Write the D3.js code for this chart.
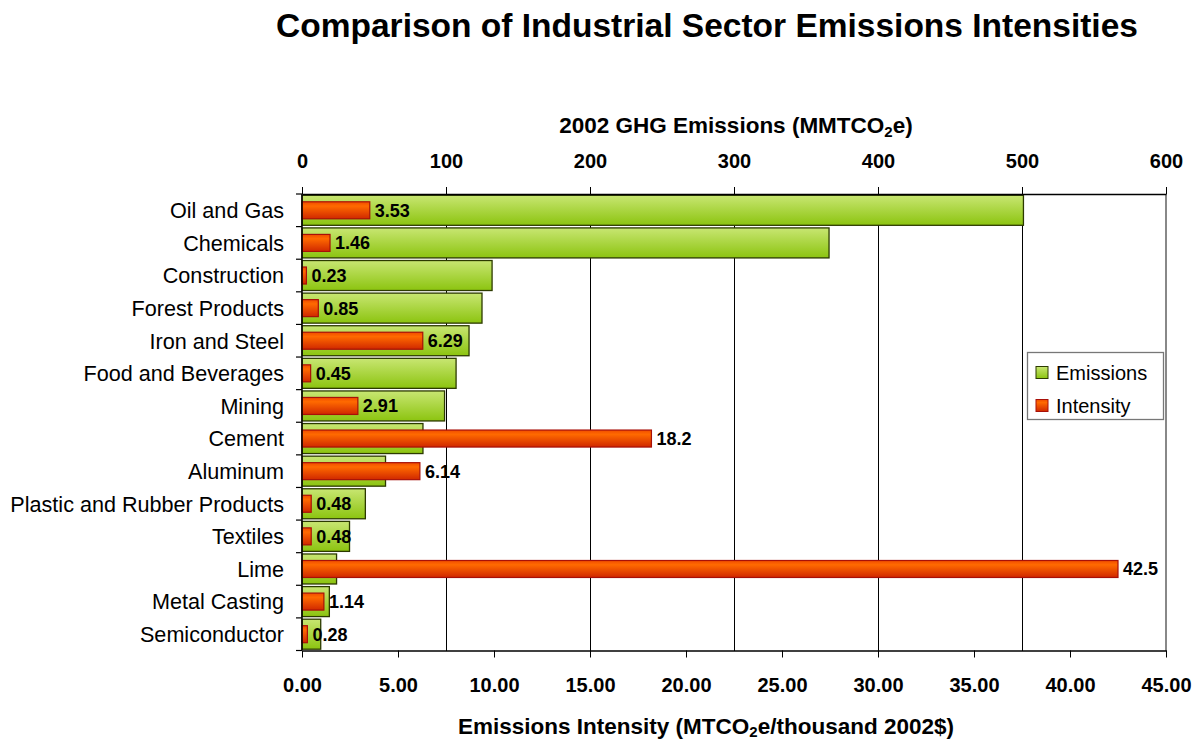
<!DOCTYPE html>
<html><head><meta charset="utf-8">
<script src="https://cdn.jsdelivr.net/npm/d3@7"></script>
<style>
html,body{margin:0;padding:0;background:#fff;}
text{font-family:"Liberation Sans",Arial,sans-serif;}
</style></head>
<body><svg id="c" width="1198" height="742"></svg>
<script>
const categories = ["Oil and Gas","Chemicals","Construction","Forest Products","Iron and Steel","Food and Beverages","Mining","Cement","Aluminum","Plastic and Rubber Products","Textiles","Lime","Metal Casting","Semiconductor"];
const emissions = [501, 366, 132, 125, 116, 107, 99, 84, 58, 44, 33, 24, 19, 13];
const intensity = [3.53, 1.46, 0.23, 0.85, 6.29, 0.45, 2.91, 18.2, 6.14, 0.48, 0.48, 42.5, 1.14, 0.28];
const intensityLabels = ["3.53","1.46","0.23","0.85","6.29","0.45","2.91","18.2","6.14","0.48","0.48","42.5","1.14","0.28"];
const emissionTicks = [0,100,200,300,400,500,600];
const intensityTicks = [0,5,10,15,20,25,30,35,40,45];
const seriesNames = ["Emissions","Intensity"];

const svg = d3.select("#c");
const L = 302, R = 1166, T = 194, B = 650.5;

const xE = d3.scaleLinear().domain([0,600]).range([L,R]);
const xI = d3.scaleLinear().domain([0,45]).range([L,R]);
const y = d3.scaleBand().domain(categories).range([T,B]).paddingInner(0).paddingOuter(0);

const defs = svg.append("defs");
const gG = defs.append("linearGradient").attr("id","gG").attr("x1",0).attr("y1",0).attr("x2",0).attr("y2",1);
gG.append("stop").attr("offset","0%").attr("stop-color","#c8e672");
gG.append("stop").attr("offset","100%").attr("stop-color","#8cc410");
const gR = defs.append("linearGradient").attr("id","gR").attr("x1",0).attr("y1",0).attr("x2",0).attr("y2",1);
gR.append("stop").attr("offset","0%").attr("stop-color","#f04c00");
gR.append("stop").attr("offset","25%").attr("stop-color","#ff6a00");
gR.append("stop").attr("offset","100%").attr("stop-color","#d02800");

// title
svg.append("text").attr("x",707).attr("y",37).attr("text-anchor","middle")
  .style("font-size","33.5px").style("font-weight","bold").text("Comparison of Industrial Sector Emissions Intensities");

// gridlines
svg.append("g").selectAll("line").data(emissionTicks.filter(d=>d>0&&d<600)).join("line")
  .attr("x1",d=>xE(d)).attr("x2",d=>xE(d)).attr("y1",T).attr("y2",B)
  .attr("stroke","#000").attr("stroke-width",1).attr("shape-rendering","crispEdges");
// right border
svg.append("line").attr("x1",R).attr("x2",R).attr("y1",T).attr("y2",B)
  .attr("stroke","#888").attr("stroke-width",1.5).attr("shape-rendering","crispEdges");

// bars
const bh = y.bandwidth();
const gb = 30/32.6*bh, rb = 17/32.6*bh;
svg.append("g").selectAll("rect").data(categories).join("rect")
  .attr("x",xE(0)).attr("y",(d)=>y(d)+bh/2-gb/2)
  .attr("width",(d,i)=>xE(emissions[i])-xE(0)).attr("height",gb)
  .attr("fill","url(#gG)").attr("stroke","#2c3a00").attr("stroke-width",1.3);
svg.append("g").selectAll("rect").data(categories).join("rect")
  .attr("x",xI(0)).attr("y",(d)=>y(d)+bh/2-rb/2)
  .attr("width",(d,i)=>xI(intensity[i])-xI(0)).attr("height",rb)
  .attr("fill","url(#gR)").attr("stroke","#a81008").attr("stroke-width",1.2);
svg.append("g").selectAll("text").data(categories).join("text")
  .attr("x",(d,i)=>xI(intensity[i])+5).attr("y",d=>y(d)+bh/2).attr("dy","0.36em")
  .style("font-size","18px").style("font-weight","bold").text((d,i)=>intensityLabels[i]);

// top axis
const ax1 = svg.append("g").attr("transform",`translate(0,${T})`)
  .call(d3.axisTop(xE).tickValues(emissionTicks).tickFormat(d3.format("d")).tickSize(7).tickSizeOuter(0).tickPadding(19));
ax1.select(".domain").attr("stroke","#000").attr("stroke-width",1.5);
ax1.selectAll("line").attr("stroke","#000");
ax1.selectAll("text").style("font-size","20px").style("font-weight","bold").attr("fill","#000").style("font-family","'Liberation Sans',Arial,sans-serif");

// bottom axis
const ax2 = svg.append("g").attr("transform",`translate(0,${B})`)
  .call(d3.axisBottom(xI).tickValues(intensityTicks).tickFormat(d3.format(".2f")).tickSize(7).tickSizeOuter(0).tickPadding(20));
ax2.select(".domain").attr("stroke","#000").attr("stroke-width",1.5);
ax2.selectAll("line").attr("stroke","#000");
ax2.selectAll("text").style("font-size","20px").style("font-weight","bold").attr("fill","#000").style("font-family","'Liberation Sans',Arial,sans-serif");

// left axis
svg.append("line").attr("x1",L).attr("x2",L).attr("y1",T).attr("y2",B).attr("stroke","#000").attr("stroke-width",1.5);
const bounds = categories.map(c=>y(c)).concat([B]);
svg.append("g").selectAll("line").data(bounds).join("line")
  .attr("x1",L-6).attr("x2",L).attr("y1",d=>d).attr("y2",d=>d).attr("stroke","#000").attr("stroke-width",1.2);
svg.append("g").selectAll("text").data(categories).join("text")
  .attr("x",284).attr("y",d=>y(d)+bh/2).attr("dy","0.36em").attr("text-anchor","end")
  .style("font-size","21.6px").text(d=>d);

// axis titles
const t1 = svg.append("text").attr("x",736).attr("y",133).attr("text-anchor","middle")
  .style("font-size","22.5px").style("font-weight","bold");
t1.append("tspan").text("2002 GHG Emissions (MMTCO");
t1.append("tspan").attr("dy","4").style("font-size","15px").text("2");
t1.append("tspan").attr("dy","-4").text("e)");
const t2 = svg.append("text").attr("x",706).attr("y",734).attr("text-anchor","middle")
  .style("font-size","22.5px").style("font-weight","bold");
t2.append("tspan").text("Emissions Intensity (MTCO");
t2.append("tspan").attr("dy","3").style("font-size","15px").text("2");
t2.append("tspan").attr("dy","-3").text("e/thousand 2002$)");

// legend
const lg = svg.append("g");
lg.append("rect").attr("x",1027.5).attr("y",352.5).attr("width",136).attr("height",67)
  .attr("fill","#fff").attr("stroke","#777").attr("stroke-width",1.3);
const fills = ["url(#gG)","url(#gR)"], strokes=["#2c3a00","#a81008"];
seriesNames.forEach((s,i)=>{
  const cy = 372.5 + i*33;
  lg.append("rect").attr("x",1036).attr("y",cy-6).attr("width",12).attr("height",12)
    .attr("fill",fills[i]).attr("stroke",strokes[i]).attr("stroke-width",1);
  lg.append("text").attr("x",1056).attr("y",cy).attr("dy","0.36em").style("font-size","20px").text(s);
});
</script></body></html>
